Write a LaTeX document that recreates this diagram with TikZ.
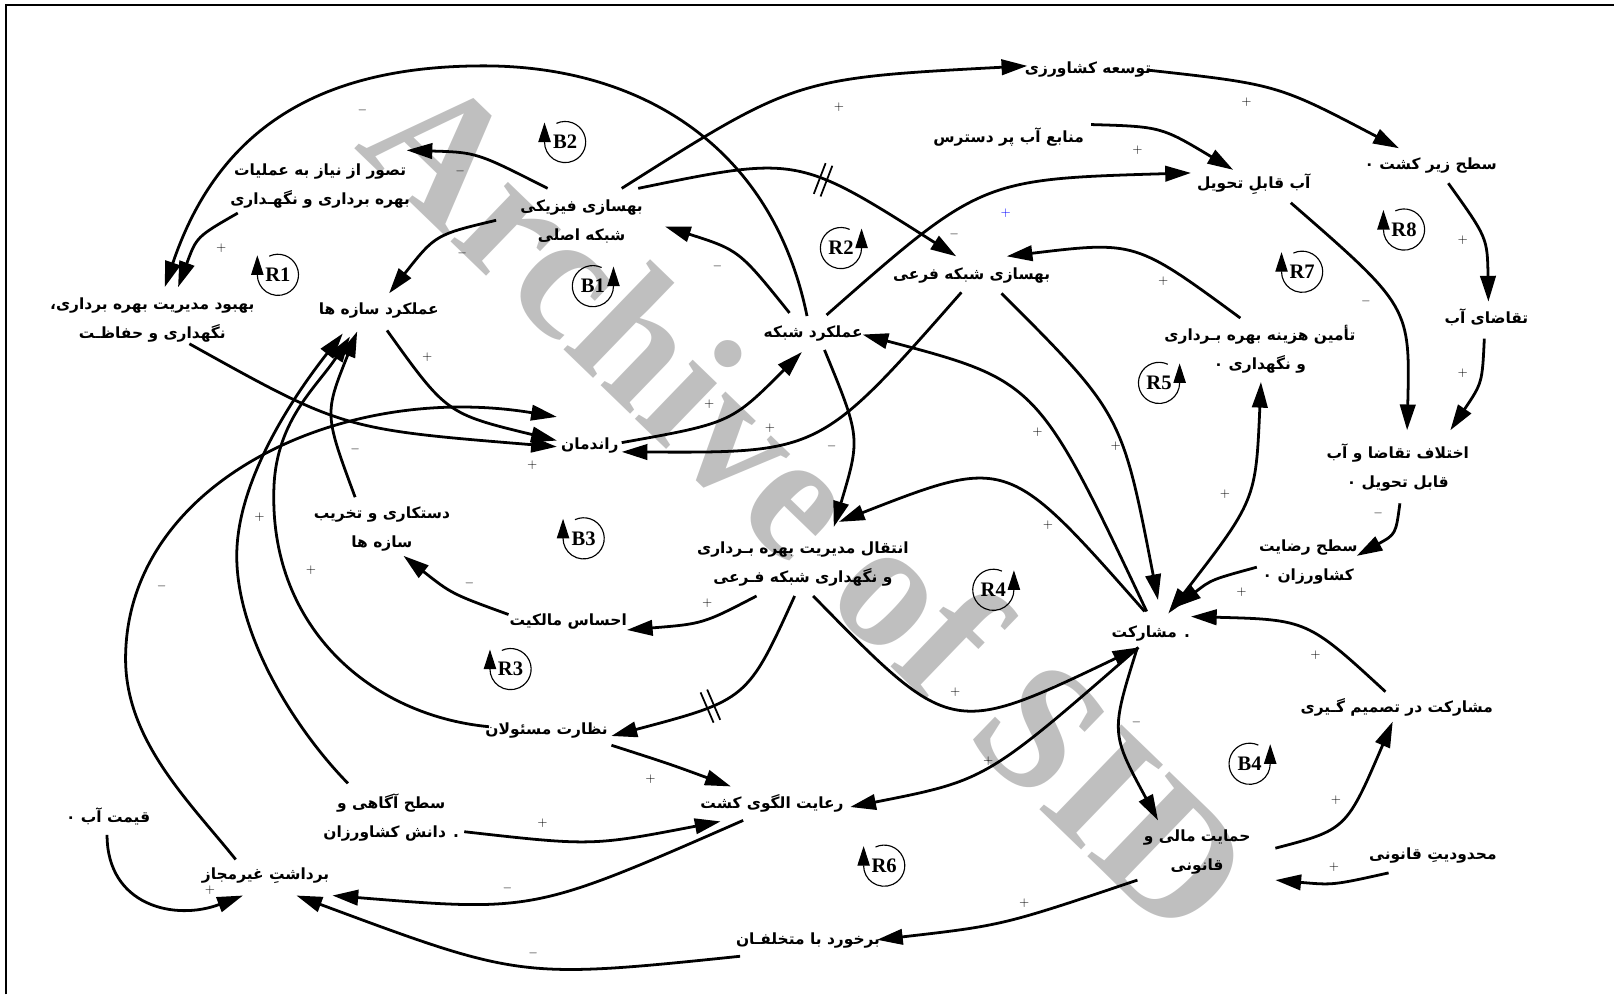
\documentclass[tikz,border=0pt]{standalone}
\usepackage{fontspec}
\usetikzlibrary{arrows.meta,decorations.markings}
\TeXXeTstate=1
\newfontfamily\persfont[Script=Arabic]{DejaVu Sans}
\newfontfamily\serifb{Liberation Serif}
\newcommand{\pers}[1]{\beginR#1\endR}
\tikzset{
 txt/.style={font=\persfont\bfseries\fontsize{15}{28}\selectfont, inner sep=0pt, align=center},
 arr/.style={line width=2.7pt, -{Triangle[length=25pt,width=15pt]}},
 darr/.style={line width=2.7pt, {Triangle[length=25pt,width=15pt]}-{Triangle[length=25pt,width=15pt]}},
 sgn/.style={font=\fontsize{13}{13}\selectfont, inner sep=0pt},
 looplbl/.style={font=\serifb\bfseries\fontsize{20}{20}\selectfont, inner sep=0pt},
 looparc/.style={line width=1.1pt, -{Triangle[length=19pt,width=12pt]}},
 delaymk/.style={postaction={decorate}, decoration={markings, mark=at position #1 with {\draw[line width=1.7pt,-] (-3.5,-16)--(-3.5,16) (3.5,-16)--(3.5,16);}}},
}
\begin{document}
\begin{tikzpicture}[x=1pt,y=-1pt]
\useasboundingbox (0,0) rectangle (1568,966);
\node[font=\serifb\bfseries\fontsize{175}{175}\selectfont, text=black!25, rotate=-44, inner sep=0pt] (wm) at (787,487) {Archive of SID};
\draw[line width=2pt] (6,966) -- (6,4.5) -- (1568,4.5);

% nodes
\node[txt] (tose) at (1057,68) {\pers{توسعه  کشاورزی}};
\node[txt] (manabe) at (980,133) {\pers{منابع آب پر دسترس}};
\node[txt] (sath) at (1390,161) {\pers{سطح زیر کشت ۰}};
\node[txt] (ab) at (1218,179) {\pers{آب قابلِ تحویل}};
\node[txt] (tasavor) at (311,181) {\pers{تصور از نیاز به عملیات}\\\pers{بهره برداری و نگهـداری}};
\node[txt] (behsazi) at (565,215) {\pers{بهسازی فیزیکی}\\\pers{شبکه اصلی}};
\node[txt] (fari) at (944,268) {\pers{بهسازی شبکه فرعی}};
\node[txt] (sazeh) at (368,302) {\pers{عملکرد سازه ها}};
\node[txt] (behbood) at (148,311) {\pers{بهبود مدیریت بهره برداری،}\\\pers{نگهداری و حفاظـت}};
\node[txt] (shabake) at (790,324) {\pers{عملکرد شبکه}};
\node[txt] (tamin) at (1224,339) {\pers{تأمین هزینه بهره بـرداری}\\\pers{و نگهداری ۰}};
\node[txt] (taghaza) at (1444,308) {\pers{تقاضای آب}};
\node[txt] (randeman) at (573,433) {\pers{راندمان}};
\node[txt] (ekhtelaf) at (1358,454) {\pers{اختلاف تقاضا و آب}\\\pers{قابل تحویل ۰}};
\node[txt] (dastkari) at (371,514) {\pers{دستکاری و تخریب}\\\pers{سازه ها}};
\node[txt] (enteghal) at (780,548) {\pers{انتقال مدیریت بهره بـرداری}\\\pers{و نگهداری شبکه فـرعی}};
\node[txt] (rezayat) at (1271,546) {\pers{سطح رضایت}\\\pers{کشاورزان ۰}};
\node[txt] (ehsas) at (552,604) {\pers{احساس مالکیت}};
\node[txt] (mosharekat) at (1118,615) {\pers{. مشارکت}};
\node[txt] (nezarat) at (531,710) {\pers{نظارت مسئولان}};
\node[txt] (tasmim) at (1357,687) {\pers{مشارکت در تصمیم گـیری}};
\node[txt] (gheimat) at (105,793) {\pers{قیمت آب ۰}};
\node[txt] (agahi) at (380,794) {\pers{سطح آگاهی و}\\\pers{. دانش کشاورزان}};
\node[txt] (roayat) at (750,780) {\pers{رعایت الگوی کشت}};
\node[txt] (hemayat) at (1163,828) {\pers{حمایت مالی و}\\\pers{قانونی}};
\node[txt] (mahdudiat) at (1392,831) {\pers{محدودیتِ قانونی}};
\node[txt] (bardasht) at (258,851) {\pers{برداشتِ غیرمجاز}};
\node[txt] (barkhord) at (785,914) {\pers{برخورد با متخلفـان}};

% edges
\draw[arr] ([shift={(39,-32)}]behsazi.center) .. controls (773,76) .. ([shift={(-59,-4)}]tose.center);
\draw[arr] ([shift={(57,0)}]tose.center) .. controls (1241,82) .. ([shift={(-31,-17)}]sath.center);
\draw[arr] ([shift={(80,-12)}]manabe.center) .. controls (1128,123) .. ([shift={(-20,-14)}]ab.center);
\draw[arr] ([shift={(13,-18)}]shabake.center) .. controls (953,174) .. ([shift={(-61,-11)}]ab.center);
\draw[arr, delaymk=0.55] ([shift={(55,-32)}]behsazi.center) .. controls (775,151) .. ([shift={(-15,-19)}]fari.center);
\draw[arr] ([shift={(-23,-20)}]shabake.center) .. controls (718,243) .. ([shift={(81,5)}]behsazi.center);
\draw[arr] ([shift={(-6,-17)}]shabake.center) .. controls (750,140) and (620,64) .. (470,64) .. controls (310,64) and (212,125) .. ([shift={(12,-32)}]behbood.center);
\draw[arr] ([shift={(-80,26)}]tasavor.center) .. controls (191,230) .. ([shift={(25,-32)}]behbood.center);
\draw[arr] ([shift={(-33,-32)}]behsazi.center) .. controls (463,148) .. ([shift={(84,-35)}]tasavor.center);
\draw[arr] ([shift={(-83,-1)}]behsazi.center) .. controls (423,228) .. ([shift={(10,-17)}]sazeh.center);
\draw[arr] ([shift={(36,23)}]behbood.center) .. controls (333,417) .. ([shift={(-32,1)}]randeman.center);
\draw[arr] ([shift={(8,19)}]sazeh.center) .. controls (434,402) .. ([shift={(-32,-5)}]randeman.center);
\draw[arr] ([shift={(-29,-16)}]bardasht.center) .. controls (185,780) and (122,720) .. (122,640) .. controls (122,470) and (330,370) .. ([shift={(-32,-28)}]randeman.center);
\draw[arr] ([shift={(31,-3)}]randeman.center) .. controls (710,411) .. ([shift={(-11,18)}]shabake.center);
\draw[arr] ([shift={(-10,16)}]fari.center) .. controls (797,440) .. ([shift={(31,6)}]randeman.center);
\draw[arr] ([shift={(11,16)}]shabake.center) .. controls (836,425) .. ([shift={(30,-36)}]enteghal.center);
\draw[arr] ([shift={(-6,-21)}]mosharekat.center) .. controls (979,443) .. ([shift={(35,-41)}]enteghal.center);
\draw[arr] ([shift={(-4,-21)}]mosharekat.center) .. controls (1008,370) .. ([shift={(48,1)}]shabake.center);
\draw[arr] ([shift={(29,17)}]fari.center) .. controls (1090,402) .. ([shift={(7,-32)}]mosharekat.center);
\draw[arr] ([shift={(-19,-30)}]tamin.center) .. controls (1103,234) .. ([shift={(34,-19)}]fari.center);
\draw[arr] ([shift={(36,18)}]ab.center) .. controls (1370,298) .. ([shift={(9,-36)}]ekhtelaf.center);
\draw[arr] ([shift={(17,17)}]sath.center) .. controls (1445,231) .. ([shift={(2,-15)}]taghaza.center);
\draw[arr] ([shift={(-2,21)}]taghaza.center) .. controls (1440,372) .. ([shift={(51,-36)}]ekhtelaf.center);
\draw[arr] ([shift={(2,35)}]ekhtelaf.center) .. controls (1356,519) .. ([shift={(47,-6)}]rezayat.center);
\draw[arr] ([shift={(-50,5)}]rezayat.center) .. controls (1177,563) .. ([shift={(24,-25)}]mosharekat.center);
\draw[darr] ([shift={(1,32)}]tamin.center) .. controls (1220,486) .. ([shift={(17,-19)}]mosharekat.center);
\draw[arr] ([shift={(-11,-15)}]tasmim.center) .. controls (1270,602) .. ([shift={(39,-16)}]mosharekat.center);
\draw[arr] ([shift={(-13,14)}]mosharekat.center) .. controls (1079,712) .. ([shift={(-38,-31)}]hemayat.center);
\draw[arr] ([shift={(76,-4)}]hemayat.center) .. controls (1308,806) .. ([shift={(-4,14)}]tasmim.center);
\draw[arr] ([shift={(-43,17)}]mahdudiat.center) .. controls (1295,860) .. ([shift={(76,27)}]hemayat.center);
\draw[arr] ([shift={(-58,27)}]hemayat.center) .. controls (974,899) .. ([shift={(67,-1)}]barkhord.center);
\draw[arr] ([shift={(-66,15)}]barkhord.center) .. controls (506,951) .. ([shift={(30,19)}]bardasht.center);
\draw[arr] ([shift={(-28,17)}]roayat.center) .. controls (519,886) .. ([shift={(65,19)}]bardasht.center);
\draw[arr] ([shift={(-1,18)}]gheimat.center) .. controls (104,880) and (170,895) .. ([shift={(-22,19)}]bardasht.center);
\draw[arr] ([shift={(71,14)}]agahi.center) .. controls (575,822) .. ([shift={(-50,18)}]roayat.center);
\draw[arr] ([shift={(63,14)}]nezarat.center) .. controls (650,742) .. ([shift={(-40,-16)}]roayat.center);
\draw[arr, delaymk=0.58] ([shift={(-8,31)}]enteghal.center) .. controls (726,680) .. ([shift={(63,5)}]nezarat.center);
\draw[arr] ([shift={(-45,31)}]enteghal.center) .. controls (683,606) .. ([shift={(57,8)}]ehsas.center);
\draw[arr] ([shift={(-58,-7)}]ehsas.center) .. controls (439,577) .. ([shift={(21,26)}]dastkari.center);
\draw[arr] ([shift={(-26,-31)}]dastkari.center) .. controls (315,402) .. ([shift={(-21,20)}]sazeh.center);
\draw[arr] ([shift={(-56,-4)}]nezarat.center) .. controls (360,695) and (264,610) .. (266,480) .. controls (266,410) and (307,377) .. ([shift={(-28,25)}]sazeh.center);
\draw[arr] ([shift={(-42,-33)}]agahi.center) .. controls (289,711) and (230,620) .. (230,540) .. controls (230,460) and (296,371) .. ([shift={(-35,22)}]sazeh.center);
\draw[arr] ([shift={(-12,14)}]mosharekat.center) .. controls (958,758) .. ([shift={(76,4)}]roayat.center);
\draw[arr] ([shift={(10,31)}]enteghal.center) .. controls (924,716) .. ([shift={(-12,14)}]mosharekat.center);

% polarity signs
\foreach \x/\y [count=\i] in {815/104,1211/99,1105/146,215/241,415/347,517/452,689/393,748/416,1018/510,1008/420,1084/433,1130/273,1421/233,1421/363,1206/575,1190/480,1278/636,1298/777,1296/842,995/877,204/865,527/800,632/757,687/586,302/554,252/502,960/739,928/672}
  \node[sgn] (plus\i) at (\x,\y) {+};
\node[sgn, text=blue] (plusblue) at (977,207) {+};
\foreach \x/\y [count=\i] in {927/228,697/259,352/107,447/167,449/246,808/434,1327/293,1339/499,1104/702,518/926,493/863,456/567,345/437,157/570}
  \node[sgn] (minus\i) at (\x,\y) {$-$};

% loop markers, arrow on the left
\foreach \lab/\x/\y in {B2/549/138,R1/270/267,R7/1265/264,R8/1364/223,B3/567/523,R3/496/650,R6/859/841}{
  \node[looplbl] (loop\lab) at (\x,\y) {\lab};
  \draw[looparc] ([shift={(-115:20)}]loop\lab.center) arc[start angle=-115, end angle=180, radius=20] -- ++(0,-19);
}
% loop markers, arrow on the right
\foreach \lab/\x/\y in {B1/576/278,R2/817/241,R5/1126/372,R4/965/573,B4/1214/742}{
  \node[looplbl] (loop\lab) at (\x,\y) {\lab};
  \draw[looparc] ([shift={(-65:20)}]loop\lab.center) arc[start angle=-65, end angle=-360, radius=20] -- ++(0,-19);
}
\end{tikzpicture}
\end{document}
